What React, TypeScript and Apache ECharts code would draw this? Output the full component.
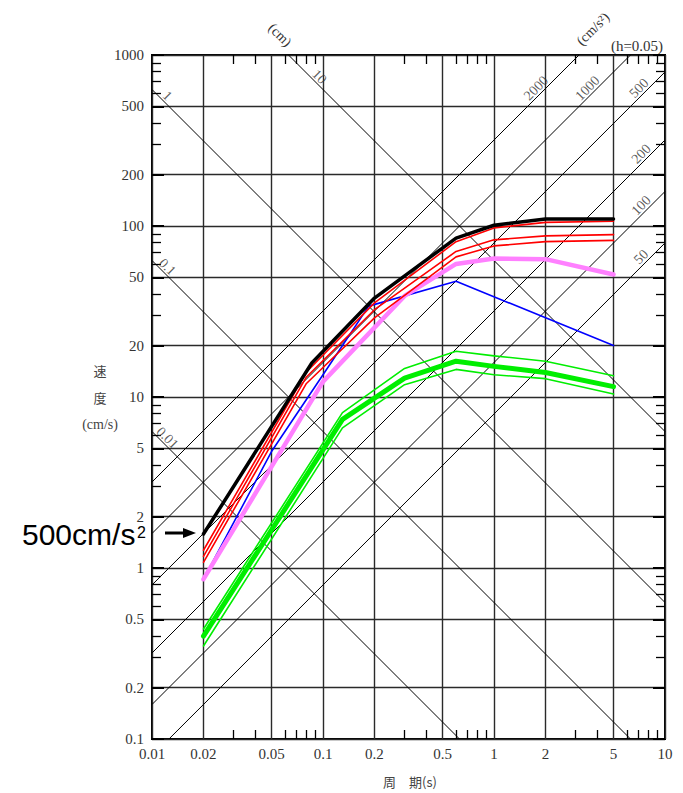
import React, { useEffect, useRef } from "react";
import * as echarts from "echarts";

// ---- axis ticks ----
const periodLabels = [0.01, 0.02, 0.05, 0.1, 0.2, 0.5, 1, 2, 5, 10];
const periodMinor = [0.03, 0.04, 0.06, 0.07, 0.08, 0.09, 0.3, 0.4, 0.6, 0.7, 0.8, 0.9, 3, 4, 6, 7, 8, 9];
const velocityLabels = [0.1, 0.2, 0.5, 1, 2, 5, 10, 20, 50, 100, 200, 500, 1000];
const velocityMinor = [0.3, 0.4, 0.6, 0.7, 0.8, 0.9, 3, 4, 6, 7, 8, 9, 30, 40, 60, 70, 80, 90, 300, 400, 600, 700, 800, 900];

// ---- tripartite guide lines ----
const displacementLines = [0.01, 0.1, 1, 10]; // cm
const accelerationLines = [50, 100, 200, 500, 1000, 2000]; // cm/s2

// ---- spectra (period s, velocity cm/s) ----
const blackT = [0.02, 0.086, 0.2, 0.6, 1, 2, 5];
const blackV = [1.58, 15.8, 37.9, 85, 101, 110, 110];
const redT = [0.02, 0.08, 0.2, 0.6, 1, 2, 5];
const red1V = [1.27, 14.0, 35.5, 81, 97.5, 105, 106.5];
const red2V = [1.17, 13.1, 32.4, 71, 83, 87.5, 89];
const red3V = [1.08, 12.0, 29, 66, 76.5, 81, 82.4];
const magentaT = [0.02, 0.1, 0.3, 0.6, 1, 2, 5];
const magentaV = [0.86, 12.3, 39, 60, 64.5, 64, 52];
const blueT = [0.02, 0.05, 0.1, 0.185, 0.6, 5];
const blueV = [0.86, 4.8, 13.5, 34, 47.5, 20];
const greenT = [0.02, 0.13, 0.3, 0.6, 1, 2, 5];
const greenUpperV = [0.44, 8.1, 14.7, 18.5, 17.4, 16.2, 13.3];
const greenMidV = [0.4, 7.4, 12.9, 16.2, 15.1, 13.9, 11.5];
const greenLowerV = [0.35, 6.6, 11.8, 14.5, 13.5, 12.8, 10.4];

const LOG = (v: number) => Math.log10(v);
const TWO_PI = 2 * Math.PI;
const X_MIN = -2, X_MAX = 1, Y_MIN = -1, Y_MAX = 3;

const SERIF = "'Liberation Serif', 'DejaVu Serif', serif";
const CJK = "'Noto Sans CJK JP', sans-serif";
const SANS = "'Liberation Sans', Arial, sans-serif";

function fmt(v: number) {
  return String(Number(Math.pow(10, v).toPrecision(3)));
}

function toData(ts: number[], vs: number[]) {
  return ts.map((t, i) => [LOG(t), LOG(vs[i])]);
}

function dispSegment(d: number) {
  const c = LOG(TWO_PI * d);
  const x0 = Math.max(X_MIN, c - Y_MAX);
  const x1 = Math.min(X_MAX, c - Y_MIN);
  return [[x0, c - x0], [x1, c - x1]];
}
function accSegment(a: number) {
  const k = LOG(a / TWO_PI);
  const x0 = Math.max(X_MIN, Y_MIN - k);
  const x1 = Math.min(X_MAX, Y_MAX - k);
  return [[x0, k + x0], [x1, k + x1]];
}

function curve(name: string, ts: number[], vs: number[], color: string, width: number) {
  return {
    name,
    type: "line",
    data: toData(ts, vs),
    symbol: "none",
    lineStyle: { color, width, cap: "round", join: "round" },
    z: 5,
  };
}

export default function App() {
  const ref = useRef<HTMLDivElement>(null);
  useEffect(() => {
    document.body.style.margin = "0";
    if (!ref.current) return;
    const chart = echarts.init(ref.current, undefined, { renderer: "svg" });

    const dispLabelData = displacementLines.map((d) => {
      const t = Math.max(0.0123, (TWO_PI * d) / 660);
      const v = ((TWO_PI * d) / t) * Math.pow(10, 9 / 171);
      return { value: [LOG(t), LOG(v)], label: { formatter: String(d), rotate: -45 } };
    });
    const accLabelData = accelerationLines.map((a) => {
      const t = Math.min((TWO_PI * 560) / a, 7.25);
      const v = ((a * t) / TWO_PI) * Math.pow(10, 10 / 171);
      return { value: [LOG(t), LOG(v)], label: { formatter: String(a), rotate: 45 } };
    });

    const hiddenAxis = {
      type: "value",
      axisLine: { show: false, onZero: false },
      axisLabel: { show: false },
      splitLine: { show: false },
    };
    const minorTick = (vals: number[]) => ({
      show: true,
      inside: true,
      length: 9,
      customValues: vals.map(LOG),
      lineStyle: { color: "#000", width: 1.3 },
    });
    const majorTick = (vals: number[]) => ({
      show: true,
      inside: true,
      length: 12,
      customValues: vals.map(LOG),
      lineStyle: { color: "#000", width: 2 },
    });

    const option: any = {
      animation: false,
      backgroundColor: "#fff",
      grid: {
        left: 152,
        top: 55,
        width: 513,
        height: 684,
        show: true,
        borderColor: "#000",
        borderWidth: 2,
        outerBoundsMode: "none",
      },
      xAxis: [
        {
          type: "value",
          position: "bottom",
          min: X_MIN,
          max: X_MAX,
          axisLine: { show: false, onZero: false },
          axisTick: { show: false, customValues: periodLabels.map(LOG) },
          axisLabel: {
            customValues: periodLabels.map(LOG),
            formatter: fmt,
            margin: 7,
            fontFamily: SERIF,
            fontSize: 15,
            color: "#333",
          },
          splitLine: { show: true, lineStyle: { color: "#2a2a2a", width: 1.4 } },
        },
        { ...hiddenAxis, position: "bottom", min: X_MIN, max: X_MAX, axisTick: minorTick(periodMinor) },
        { ...hiddenAxis, position: "top", min: X_MIN, max: X_MAX, axisTick: minorTick(periodMinor) },
      ],
      yAxis: [
        {
          type: "value",
          position: "left",
          min: Y_MIN,
          max: Y_MAX,
          axisLine: { show: false, onZero: false },
          axisTick: majorTick(velocityLabels),
          axisLabel: {
            customValues: velocityLabels.map(LOG),
            formatter: fmt,
            margin: 8,
            fontFamily: SERIF,
            fontSize: 15,
            color: "#333",
          },
          splitLine: { show: true, lineStyle: { color: "#2a2a2a", width: 1.4 } },
        },
        { ...hiddenAxis, position: "left", min: Y_MIN, max: Y_MAX, axisTick: minorTick(velocityMinor) },
        { ...hiddenAxis, position: "right", min: Y_MIN, max: Y_MAX, axisTick: minorTick(velocityMinor) },
        { ...hiddenAxis, position: "right", min: Y_MIN, max: Y_MAX, axisTick: majorTick(velocityLabels) },
      ],
      series: [
        {
          name: "displacement",
          type: "lines",
          coordinateSystem: "cartesian2d",
          polyline: false,
          lineStyle: { color: "#000", width: 1, opacity: 1 },
          data: displacementLines.map((d) => ({ coords: dispSegment(d) })),
          z: 3,
        },
        {
          name: "acceleration",
          type: "lines",
          coordinateSystem: "cartesian2d",
          polyline: false,
          lineStyle: { color: "#000", width: 1, opacity: 1 },
          data: accelerationLines.map((a) => ({ coords: accSegment(a) })),
          z: 3,
        },
        {
          name: "guide labels",
          type: "scatter",
          symbolSize: 1,
          itemStyle: { color: "transparent" },
          clip: false,
          label: {
            show: true,
            position: "inside",
            fontFamily: SERIF,
            fontSize: 14,
            color: "#333",
          },
          data: [...dispLabelData, ...accLabelData],
          z: 4,
        },
        curve("green upper", greenT, greenUpperV, "#00ee00", 1.6),
        curve("green lower", greenT, greenLowerV, "#00ee00", 1.6),
        curve("green", greenT, greenMidV, "#00ee00", 5),
        curve("blue", blueT, blueV, "#0000ff", 1.6),
        curve("magenta", magentaT, magentaV, "#ff80ff", 4.5),
        curve("red 3", redT, red3V, "#ff0000", 1.6),
        curve("red 2", redT, red2V, "#ff0000", 1.6),
        curve("red 1", redT, red1V, "#ff0000", 1.6),
        curve("black", blackT, blackV, "#000000", 3.5),
      ],
      graphic: [
        { type: "text", x: 280, y: 35, rotation: -Math.PI / 4, style: { text: "(cm)", fontFamily: SERIF, fontSize: 14, fill: "#333", align: "center", verticalAlign: "middle" } },
        { type: "text", x: 593, y: 29, rotation: Math.PI / 4, style: { text: "(cm/s²)", fontFamily: SERIF, fontSize: 14, fill: "#333", align: "center", verticalAlign: "middle" } },
        { type: "text", x: 637, y: 46, style: { text: "(h=0.05)", fontFamily: SERIF, fontSize: 15, fill: "#333", align: "center", verticalAlign: "middle" } },
        { type: "text", x: 100, y: 370, style: { text: "速", fontFamily: CJK, fontSize: 13, fill: "#444", align: "center", verticalAlign: "middle" } },
        { type: "text", x: 100, y: 397, style: { text: "度", fontFamily: CJK, fontSize: 13, fill: "#444", align: "center", verticalAlign: "middle" } },
        { type: "text", x: 100, y: 424, style: { text: "(cm/s)", fontFamily: SERIF, fontSize: 14, fill: "#444", align: "center", verticalAlign: "middle" } },
        { type: "text", x: 410, y: 781, style: { text: "周　期(s)", fontFamily: CJK, fontSize: 13, fill: "#444", align: "center", verticalAlign: "middle" } },
        { type: "text", x: 22, y: 534, style: { text: "500cm/s", fontFamily: SANS, fontSize: 30, fill: "#000", align: "left", verticalAlign: "middle" } },
        { type: "text", x: 137, y: 532.5, style: { text: "2", fontFamily: SANS, fontSize: 16, fill: "#000", align: "left", verticalAlign: "middle" } },
        { type: "line", shape: { x1: 165, y1: 533, x2: 186, y2: 533 }, style: { stroke: "#000", lineWidth: 3 } },
        { type: "polygon", shape: { points: [[183, 528], [196, 533], [183, 538]] }, style: { fill: "#000" } },
      ],
    };

    chart.setOption(option);
    return () => chart.dispose();
  }, []);

  return <div ref={ref} style={{ width: 683, height: 793 }} />;
}
